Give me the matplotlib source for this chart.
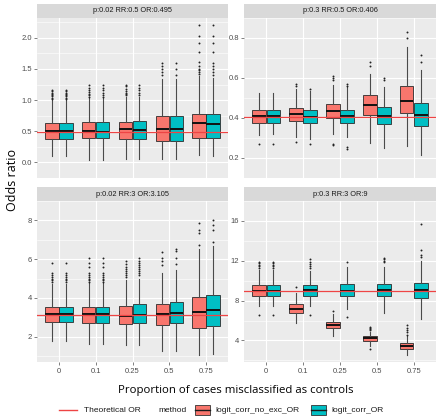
import numpy as np
import matplotlib.pyplot as plt
from matplotlib.patches import Rectangle
from matplotlib.lines import Line2D

plt.rcParams['font.family'] = ['Liberation Sans', 'DejaVu Sans']

proportions = ['0', '0.1', '0.25', '0.5', '0.75']
methods = ['logit_corr_no_exc_OR', 'logit_corr_OR']
panel_titles = ['p:0.02 RR:0.5 OR:0.495', 'p:0.3 RR:0.5 OR:0.406',
                'p:0.02 RR:3 OR:3.105', 'p:0.3 RR:3 OR:9']
theoretical_or = [0.495, 0.406, 3.105, 9]

# rows: proportion; columns: whisker low, q1, median, q3, whisker high
p1_noexc = [[0.10, 0.38, 0.50, 0.63, 1.00],
            [0.04, 0.39, 0.50, 0.65, 1.03],
            [0.05, 0.38, 0.53, 0.65, 1.05],
            [0.06, 0.34, 0.54, 0.75, 1.34],
            [0.12, 0.385, 0.63, 0.77, 1.38]]
p1_corr = [[0.10, 0.38, 0.50, 0.63, 1.00],
           [0.04, 0.39, 0.49, 0.65, 1.03],
           [0.05, 0.38, 0.52, 0.66, 1.05],
           [0.05, 0.34, 0.53, 0.75, 1.34],
           [0.11, 0.385, 0.61, 0.775, 1.35]]
p1_noexc_fl = [[1.02, 1.04, 1.06, 1.08, 1.10, 1.12, 1.15, 1.17],
               [1.05, 1.08, 1.10, 1.13, 1.16, 1.20, 1.25],
               [1.08, 1.10, 1.12, 1.15, 1.18, 1.22, 1.25],
               [1.40, 1.45, 1.50, 1.55, 1.60],
               [1.42, 1.45, 1.48, 1.50, 1.55, 1.62, 1.78, 1.92, 2.03, 2.21]]
p1_corr_fl = [[1.02, 1.04, 1.06, 1.08, 1.10, 1.12, 1.15, 1.17],
              [1.05, 1.08, 1.12, 1.16, 1.20, 1.25],
              [1.08, 1.12, 1.16, 1.20, 1.25],
              [1.40, 1.50, 1.60],
              [1.40, 1.45, 1.50, 1.55, 1.60, 1.78, 1.92, 2.03, 2.20]]

p2_noexc = [[0.317, 0.375, 0.410, 0.439, 0.526],
            [0.307, 0.385, 0.418, 0.449, 0.547],
            [0.320, 0.400, 0.437, 0.470, 0.566],
            [0.275, 0.416, 0.465, 0.515, 0.622],
            [0.261, 0.424, 0.487, 0.561, 0.755]]
p2_corr = [[0.320, 0.375, 0.410, 0.440, 0.526],
           [0.297, 0.375, 0.406, 0.439, 0.533],
           [0.307, 0.374, 0.410, 0.441, 0.557],
           [0.248, 0.368, 0.410, 0.456, 0.554],
           [0.216, 0.360, 0.413, 0.475, 0.639]]
p2_noexc_fl = [[0.272], [0.279, 0.56, 0.57], [0.265, 0.27, 0.59, 0.60, 0.61],
               [0.66, 0.68], [0.80, 0.83]]
p2_corr_fl = [[0.272], [0.27, 0.545], [0.245, 0.255, 0.56, 0.57],
              [0.59, 0.60], [0.68, 0.716]]

p3_noexc = [[1.80, 2.75, 3.15, 3.55, 4.70],
            [1.60, 2.72, 3.15, 3.55, 4.75],
            [1.55, 2.65, 3.08, 3.60, 4.90],
            [1.25, 2.59, 3.15, 3.71, 5.31],
            [1.04, 2.45, 3.25, 4.05, 6.52]]
p3_corr = [[1.80, 2.75, 3.15, 3.55, 4.70],
           [1.60, 2.72, 3.15, 3.55, 4.75],
           [1.55, 2.70, 3.12, 3.68, 5.00],
           [1.25, 2.69, 3.20, 3.79, 5.44],
           [1.08, 2.53, 3.36, 4.16, 6.70]]
p3_noexc_fl = [[4.8, 4.9, 5.0, 5.1, 5.2, 5.3, 5.8],
               [4.8, 4.9, 5.0, 5.1, 5.2, 5.3, 5.6, 5.8, 6.05],
               [5.1, 5.2, 5.3, 5.4, 5.5, 5.6, 5.75, 5.9],
               [5.68, 5.92, 6.08, 6.37],
               [6.72, 7.33, 7.5, 7.84]]
p3_corr_fl = [[4.8, 4.9, 5.0, 5.1, 5.2, 5.3, 5.8],
              [4.8, 4.9, 5.0, 5.1, 5.2, 5.3, 5.6, 5.8, 6.05],
              [5.2, 5.3, 5.4, 5.5, 5.6, 5.7, 5.8, 5.9, 6.05],
              [5.76, 6.08, 6.4, 6.53],
              [6.9, 7.52, 7.76, 8.0]]

p4_noexc = [[7.43, 8.45, 9.00, 9.60, 11.10],
            [5.77, 6.80, 7.19, 7.64, 8.75],
            [4.40, 5.23, 5.56, 5.90, 6.68],
            [3.43, 3.97, 4.27, 4.48, 4.87],
            [2.50, 3.19, 3.49, 3.73, 4.42]]
p4_corr = [[7.43, 8.45, 9.00, 9.60, 11.10],
           [7.50, 8.45, 9.05, 9.60, 11.00],
           [7.13, 8.45, 9.00, 9.65, 11.34],
           [6.80, 8.45, 9.10, 9.68, 11.40],
           [6.13, 8.30, 9.05, 9.80, 12.00]]
p4_noexc_fl = [[6.53, 11.3, 11.45, 11.6, 11.75, 11.9],
               [9.38], [6.95], [3.19, 5.1, 5.2, 5.3, 5.4],
               [4.6, 4.85, 5.1, 5.3, 5.53]]
p4_corr_fl = [[6.53, 11.3, 11.45, 11.6, 11.75, 11.9],
              [6.6, 11.3, 11.5, 11.7, 11.9, 12.15],
              [6.35, 11.9], [11.85, 12.0, 12.15, 12.3],
              [12.4, 12.6, 13.1, 15.7]]

panel_stats = [(p1_noexc, p1_noexc_fl, p1_corr, p1_corr_fl),
               (p2_noexc, p2_noexc_fl, p2_corr, p2_corr_fl),
               (p3_noexc, p3_noexc_fl, p3_corr, p3_corr_fl),
               (p4_noexc, p4_noexc_fl, p4_corr, p4_corr_fl)]
y_ticks = [[0.0, 0.5, 1.0, 1.5, 2.0], [0.2, 0.4, 0.6, 0.8],
           [2, 4, 6, 8], [4, 8, 12, 16]]

colors = ['#F8766D', '#00BFC4']
line_col = '#EE4444'
W, H = 440, 418

fig = plt.figure(figsize=(4.4, 4.18), dpi=100)


def px_axes(x0, y0, x1, y1):
    return fig.add_axes([x0 / W, 1 - y1 / H, (x1 - x0) / W, (y1 - y0) / H])


def stats_list(tab, fl):
    out = []
    for row, f in zip(tab, fl):
        lo, q1, med, q3, hi = row
        out.append(dict(whislo=lo, q1=q1, med=med, q3=q3, whishi=hi, fliers=f))
    return out


panel_px = [(37, 18, 228, 178), (244, 18, 436, 178),
            (37, 201, 228, 362), (244, 201, 436, 362)]
strip_h = 14

x = np.arange(1, len(proportions) + 1)
for i, (pp, (nt, nf, ct, cf)) in enumerate(zip(panel_px, panel_stats)):
    ax = px_axes(*pp)
    ax.set_facecolor('#EBEBEB')
    for side in ax.spines.values():
        side.set_visible(False)

    for k, (tab, fl) in enumerate([(nt, nf), (ct, cf)]):
        off = -0.19 if k == 0 else 0.19
        ax.bxp(stats_list(tab, fl), positions=x + off, widths=0.36,
               patch_artist=True, showcaps=False,
               boxprops=dict(facecolor=colors[k], edgecolor='#2b2b2b', linewidth=0.6),
               medianprops=dict(color='#111111', linewidth=1.4),
               whiskerprops=dict(color='#4a4a4a', linewidth=0.8),
               flierprops=dict(marker='o', markersize=1.4, markerfacecolor='#222222',
                               markeredgecolor='none'))

    ax.axhline(theoretical_or[i], color=line_col, linewidth=0.9, zorder=5)

    allv = [v for t in (nt, ct) for r in t for v in r] + \
           [v for f in (nf, cf) for r in f for v in r]
    lo, hi = min(allv), max(allv)
    pad = 0.05 * (hi - lo)
    ax.set_ylim(lo - pad, hi + pad)
    ax.set_xlim(0.4, 5.6)

    yt = y_ticks[i]
    ax.set_yticks(yt)
    step = yt[1] - yt[0]
    ax.set_yticks([t + step / 2 for t in [yt[0] - step] + yt], minor=True)
    ax.set_yticklabels([('%g' % t) if i != 0 else '%.1f' % t for t in yt])
    ax.set_xticks(x)
    ax.grid(which='major', color='white', linewidth=0.8)
    ax.grid(which='minor', axis='y', color='white', linewidth=0.4)
    ax.set_axisbelow(True)
    ax.tick_params(axis='y', which='major', labelsize=5.5, labelcolor='#4D4D4D',
                   color='#4D4D4D', length=2, width=0.5, pad=1.5)
    ax.tick_params(axis='y', which='minor', length=0)
    if i < 2:
        ax.tick_params(axis='x', length=0, labelbottom=False)
    else:
        ax.set_xticklabels(proportions)
        ax.tick_params(axis='x', labelsize=5.5, labelcolor='#4D4D4D',
                       color='#4D4D4D', length=2, width=0.5, pad=2)

    sx = px_axes(pp[0], pp[1] - strip_h, pp[2], pp[1])
    sx.set_facecolor('#D9D9D9')
    sx.set_xticks([])
    sx.set_yticks([])
    for side in sx.spines.values():
        side.set_visible(False)
    sx.text(0.5, 0.5, panel_titles[i], ha='center', va='center',
            fontsize=5.3, color='#1A1A1A', transform=sx.transAxes)

fig.text(12 / W, 1 - 180 / H, 'Odds ratio', rotation=90, ha='center', va='center',
         fontsize=9, family=['Open Sans', 'DejaVu Sans'])
fig.text(236 / W, 1 - 391 / H, 'Proportion of cases misclassified as controls',
         ha='center', va='center', fontsize=8.2, family=['Open Sans', 'DejaVu Sans'])

# legend
ly = 1 - 410 / H
fig.add_artist(Line2D([59 / W, 77 / W], [ly, ly], color=line_col, linewidth=1.0))
fig.text(84 / W, ly, 'Theoretical OR', ha='left', va='center', fontsize=6, color='#1A1A1A')
fig.text(158 / W, ly, 'method', ha='left', va='center', fontsize=6, color='#1A1A1A')
keys = [(195, methods[0]), (311, methods[1])]
for k, (kx, lab) in enumerate(keys):
    fig.add_artist(Rectangle((kx / W, ly - 5 / H), 15 / W, 10 / H, facecolor=colors[k],
                             edgecolor='#333333', linewidth=0.6))
    fig.add_artist(Line2D([kx / W, (kx + 15) / W], [ly, ly], color='#1a1a1a', linewidth=1.0))
    fig.text((kx + 20) / W, ly, lab, ha='left', va='center', fontsize=6, color='#1A1A1A')

fig.savefig('out.png', dpi=100, facecolor='white')
